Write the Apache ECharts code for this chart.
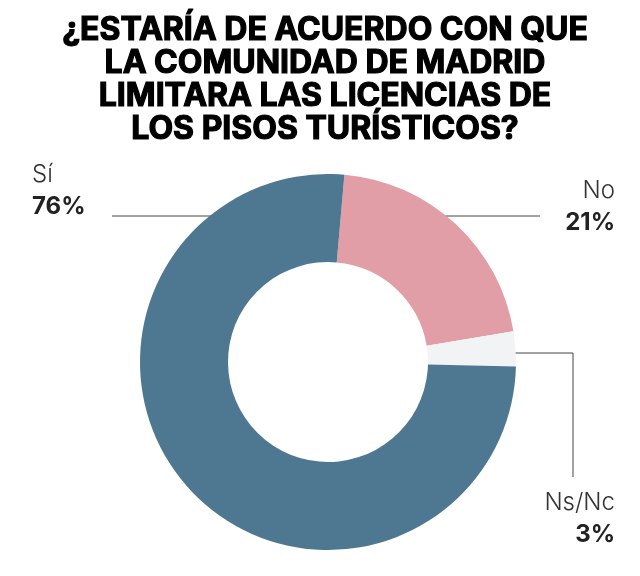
<!DOCTYPE html>
<html>
<head>
<meta charset="utf-8">
<script src="https://cdn.jsdelivr.net/npm/echarts@6/dist/echarts.min.js"></script>
<style>
html,body{margin:0;padding:0;background:#fff;}
#chart{width:640px;height:576px;}
</style>
</head>
<body>
<div id="chart"></div>
<script>
const titleLines = ["¿ESTARÍA DE ACUERDO CON QUE", "LA COMUNIDAD DE MADRID", "LIMITARA LAS LICENCIAS DE", "LOS PISOS TURÍSTICOS?"];
const categories = ["No", "Ns/Nc", "Sí"];
const values = [21, 3, 76];
const colors = ["#e29ea6", "#f2f3f5", "#4e7891"];

const CX = 328, CY = 362, R_IN = 100, R_OUT = 188;

function labelPlace(i) {
  if (i === 2) { // Sí
    const ly = 216;
    const ex = CX - Math.sqrt(R_OUT * R_OUT - (ly - CY) * (ly - CY)) + 6;
    return {x: 32, y: 191, align: 'left', pts: [[ex, ly], [112, ly], [112, ly]]};
  } else if (i === 0) { // No
    const ly = 216;
    const ex = CX + Math.sqrt(R_OUT * R_OUT - (ly - CY) * (ly - CY)) - 1;
    return {x: 615, y: 207, align: 'right', pts: [[ex, ly], [540, ly], [540, ly]]};
  } else { // Ns/Nc
    const ly = 353;
    const ex = CX + Math.sqrt(R_OUT * R_OUT - (ly - CY) * (ly - CY)) - 2;
    return {x: 615, y: 519, align: 'right', pts: [[ex, ly], [573, ly], [573, 477]]};
  }
}

const chart = echarts.init(document.getElementById('chart'), null, {renderer: 'canvas'});
chart.setOption({
  backgroundColor: '#ffffff',
  animation: false,
  title: {
    text: titleLines.join('\n'),
    left: 320,
    top: 9,
    textAlign: 'center',
    textStyle: {
      fontFamily: 'Inter',
      fontWeight: 'bold',
      fontSize: 32,
      lineHeight: 33,
      color: '#000000',
      textBorderColor: '#000000',
      textBorderWidth: 1.2
    }
  },
  series: [{
    type: 'pie',
    center: [CX, CY],
    radius: [R_IN, R_OUT],
    startAngle: 85,
    clockwise: true,
    avoidLabelOverlap: false,
    data: categories.map((c, i) => ({name: c, value: values[i], itemStyle: {color: colors[i]}})),
    itemStyle: {borderWidth: 0},
    emphasis: {disabled: true},
    label: {
      show: true,
      position: 'outside',
      formatter: p => '{n|' + p.name + '}\n{v|' + p.value + '%}',
      rich: {
        n: {fontFamily: 'Inter', fontWeight: 300, fontSize: 24, lineHeight: 32, color: '#333333'},
        v: {fontFamily: 'Inter', fontWeight: 700, fontSize: 24, lineHeight: 32, color: '#222222'}
      }
    },
    labelLine: {show: true, lineStyle: {color: '#444444', width: 1}, length: 10, length2: 10},
    labelLayout: function (p) {
      const pl = labelPlace(p.dataIndex);
      return {x: pl.x, y: pl.y, align: pl.align, verticalAlign: 'middle', labelLinePoints: pl.pts};
    }
  }]
});
</script>
</body>
</html>
